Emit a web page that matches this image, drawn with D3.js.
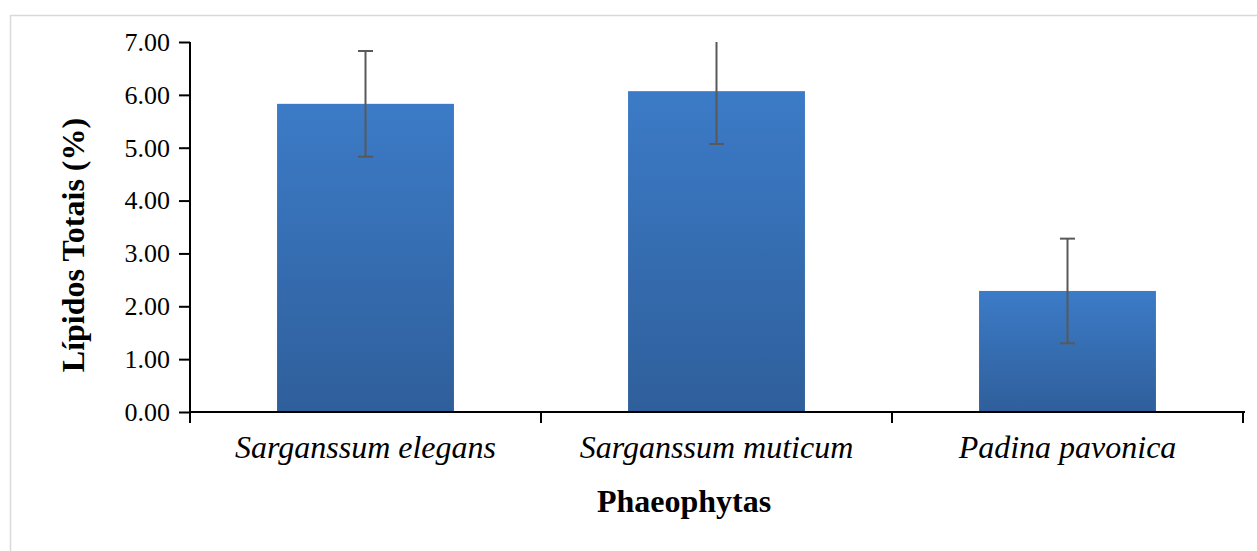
<!DOCTYPE html>
<html><head><meta charset="utf-8">
<script src="https://cdn.jsdelivr.net/npm/d3@7"></script>
<style>body{margin:0;background:#fff}svg{display:block}text{font-family:'Liberation Serif','Times New Roman',serif}</style>
</head><body><svg id="c" width="1257" height="551"></svg>
<script>
const categories = ["Sarganssum elegans", "Sarganssum muticum", "Padina pavonica"];
const values = [5.83, 6.07, 2.29];
const errors = [1.0, 1.0, 0.99];
const yTicks = [0, 1, 2, 3, 4, 5, 6, 7];
const xTitle = "Phaeophytas";
const yTitle = "Lípidos Totais (%)";

const FONT = "'Liberation Serif','Times New Roman',serif";
const svg = d3.select("#c");
svg.append("rect").attr("x",10.5).attr("y",15.5).attr("width",1270).attr("height",560)
  .attr("fill","#fff").attr("stroke","#d9d9d9").attr("stroke-width",1.5);

const defs = svg.append("defs");
const g = defs.append("linearGradient").attr("id","bg").attr("x1",0).attr("y1",0).attr("x2",0).attr("y2",1);
g.append("stop").attr("offset","0%").attr("stop-color","#3c7bc7");
g.append("stop").attr("offset","100%").attr("stop-color","#2f5f9b");
const clip = defs.append("clipPath").attr("id","pc");
clip.append("rect").attr("x",180).attr("y",42).attr("width",1080).attr("height",380);

const x = d3.scaleBand().domain(categories).range([190, 1243]).paddingInner(0.496).paddingOuter(0.248);
const y = d3.scaleLinear().domain([0, 7]).range([412, 42]);

// bars
svg.append("g").selectAll("rect").data(categories).join("rect")
  .attr("x", d => x(d)).attr("width", x.bandwidth())
  .attr("y", (d,i) => y(values[i])).attr("height", (d,i) => y(0) - y(values[i]))
  .attr("fill","url(#bg)");

// error bars
const eb = svg.append("g").attr("clip-path","url(#pc)").attr("stroke","#595959").attr("stroke-width",2).attr("fill","none");
categories.forEach((c,i) => {
  const cx = x(c) + x.bandwidth()/2;
  const top = y(values[i] + errors[i]), bot = y(values[i] - errors[i]);
  eb.append("line").attr("x1",cx).attr("x2",cx).attr("y1",top).attr("y2",bot);
  eb.append("line").attr("x1",cx-7.5).attr("x2",cx+7.5).attr("y1",top).attr("y2",top);
  eb.append("line").attr("x1",cx-7.5).attr("x2",cx+7.5).attr("y1",bot).attr("y2",bot);
});

// y axis
const ya = svg.append("g").attr("transform","translate(190,0)")
  .call(d3.axisLeft(y).tickValues(yTicks).tickFormat(d3.format(".2f")).tickSize(11).tickPadding(9));
ya.attr("font-family", FONT);
ya.select(".domain").attr("stroke","#000").attr("stroke-width",2).attr("d","M0,412V42");
ya.selectAll(".tick line").attr("stroke","#000").attr("stroke-width",2);
ya.selectAll(".tick text").attr("font-family",FONT).attr("font-size",26).attr("fill","#000");

// x axis
const xa = svg.append("g").attr("transform","translate(0,412)");
xa.append("line").attr("x1",189).attr("x2",1245).attr("y1",0).attr("y2",0).attr("stroke","#000").attr("stroke-width",2);
const bounds = [190, ...categories.map(c => x(c) + x.bandwidth()/2 + x.step()/2)];
xa.selectAll("line.t").data(bounds).join("line").attr("class","t")
  .attr("x1",d=>d).attr("x2",d=>d).attr("y1",0).attr("y2",11).attr("stroke","#000").attr("stroke-width",2);
xa.selectAll("text").data(categories).join("text")
  .attr("x", d => x(d) + x.bandwidth()/2).attr("y", 46)
  .attr("text-anchor","middle").attr("font-family",FONT)
  .attr("font-style","italic").attr("font-size",32).attr("fill","#000").text(d => d);

svg.append("text").attr("x",684).attr("y",512).attr("text-anchor","middle")
  .attr("font-family",FONT).attr("font-weight","bold").attr("font-size",32).text(xTitle);
svg.append("text").attr("transform","translate(84,245) rotate(-90)").attr("text-anchor","middle")
  .attr("font-family",FONT).attr("font-weight","bold").attr("font-size",32).text(yTitle);
</script></body></html>
